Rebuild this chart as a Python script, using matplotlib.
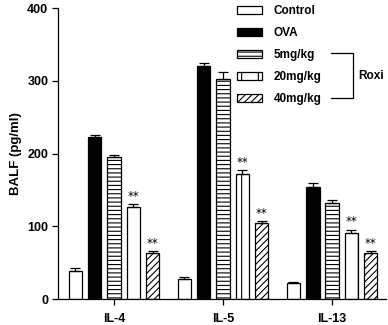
import matplotlib
matplotlib.use("Agg")
import matplotlib.pyplot as plt
import numpy as np
from matplotlib.patches import Patch
from matplotlib.lines import Line2D

plt.rcParams['font.family'] = ['Liberation Sans', 'DejaVu Sans']
plt.rcParams['font.weight'] = 'bold'
plt.rcParams['hatch.linewidth'] = 0.8

groups = ["IL-4", "IL-5", "IL-13"]
series = ["Control", "OVA", "5mg/kg", "20mg/kg", "40mg/kg"]
values = {
    "Control": [39, 27, 22],
    "OVA":     [222, 320, 154],
    "5mg/kg":  [195, 302, 132],
    "20mg/kg": [126, 172, 91],
    "40mg/kg": [63, 104, 63],
}
errors = {
    "Control": [3, 3, 2],
    "OVA":     [4, 5, 5],
    "5mg/kg":  [3, 10, 4],
    "20mg/kg": [4, 5, 4],
    "40mg/kg": [3, 3, 3],
}
signif = {"20mg/kg": ["**", "**", "**"], "40mg/kg": ["**", "**", "**"]}
yticks = [0, 100, 200, 300, 400]

styles = {
    "Control": dict(facecolor="white", hatch=None),
    "OVA":     dict(facecolor="black", hatch=None),
    "5mg/kg":  dict(facecolor="white", hatch="----"),
    "20mg/kg": dict(facecolor="white", hatch="|"),
    "40mg/kg": dict(facecolor="white", hatch="/////"),
}

fig = plt.figure(figsize=(3.88, 3.25), dpi=100)
ax = fig.add_axes([58/388, 1-299/325, (386-58)/388, (299-8)/325])

x = np.arange(len(groups))
pitch = 0.177
width = 0.124
for i, s in enumerate(series):
    pos = x + (i - 2) * pitch
    ax.bar(pos, values[s], width=width, edgecolor="black", linewidth=0.9,
           zorder=2, **styles[s])
    ax.errorbar(pos, values[s], yerr=[np.zeros(len(groups)), errors[s]],
                fmt="none", ecolor="black", elinewidth=0.9, capsize=3.5,
                capthick=0.9, zorder=3)
    if s in signif:
        for p, v, e, t in zip(pos, values[s], errors[s], signif[s]):
            ax.text(p, v + e + 2, t, ha="center", va="bottom",
                    fontsize=8.5, fontweight="normal", family="DejaVu Sans")

ax.set_xlim(-0.514, 2.495)
ax.set_ylim(0, 400)
ax.set_yticks(yticks)
ax.set_xticks(x)
ax.set_xticklabels(groups)
ax.spines["top"].set_visible(False)
ax.spines["right"].set_visible(False)
ax.spines["left"].set_linewidth(0.9)
ax.spines["bottom"].set_linewidth(0.9)
ax.tick_params(axis="both", direction="out", length=4, width=0.9,
               labelsize=9, pad=3)
ax.tick_params(axis="x", pad=6)
for lbl in ax.get_xticklabels() + ax.get_yticklabels():
    lbl.set_fontweight("bold")
ax.set_ylabel("BALF (pg/ml)", fontsize=9.5, fontweight="bold", labelpad=4)

handles = [Patch(edgecolor="black", linewidth=0.9, **styles[s]) for s in series]
leg = fig.legend(handles, series, loc="upper left",
                 bbox_to_anchor=(229/388, 1 + 3/325), frameon=False,
                 fontsize=8.5, handlelength=2.1, handleheight=0.6,
                 labelspacing=0.85, handletextpad=1.0, borderpad=0.2)
for t in leg.get_texts():
    t.set_fontweight("bold")

# bracket for Roxi
W, H = 388, 325
def fx(px): return px / W
def fy(py): return 1 - py / H
fig.add_artist(Line2D([fx(331), fx(353), fx(353), fx(331)],
                      [fy(53), fy(53), fy(98), fy(98)],
                      color="black", linewidth=0.9))
fig.text(fx(358), fy(76), "Roxi", ha="left", va="center",
         fontsize=8.5, fontweight="bold")

fig.savefig("out.png", dpi=100)
